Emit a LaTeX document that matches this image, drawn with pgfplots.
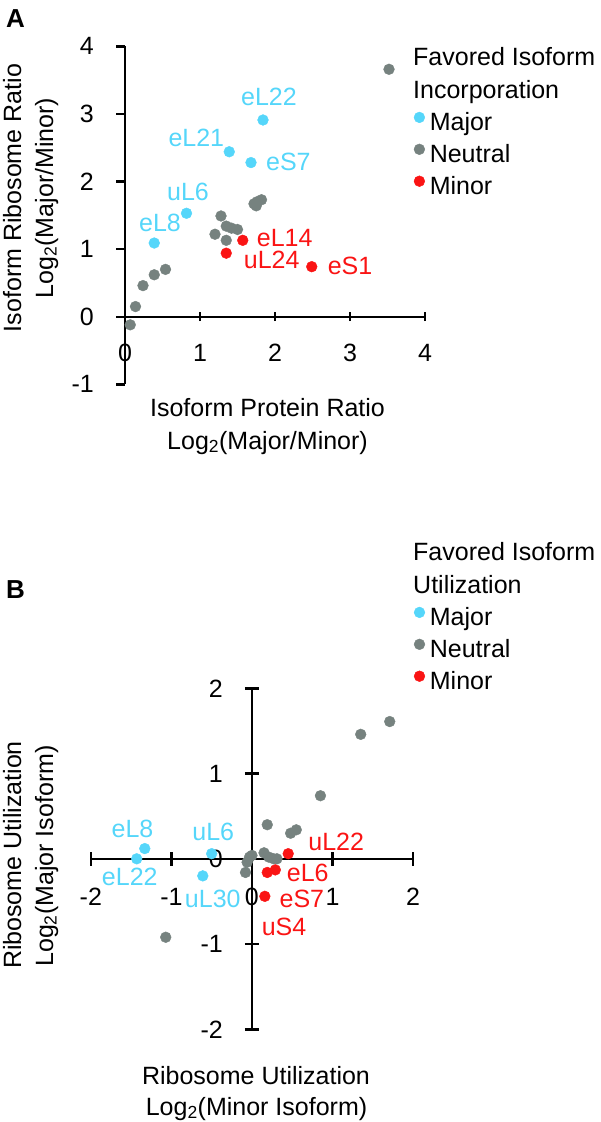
\documentclass[border=0pt]{standalone}
\usepackage{pgfplots}
\pgfplotsset{compat=1.18}
\usepackage{fontspec}
\setmainfont{Liberation Sans}
\definecolor{cmaj}{HTML}{55D6FA}
\definecolor{cneu}{HTML}{76827F}
\definecolor{cmin}{HTML}{FA1414}
\newcommand\fs{\fontsize{25}{30}\selectfont}
\tikzset{lbl/.style={font=\fs, inner sep=0pt, anchor=base}}

\pgfplotsset{
  myax/.style={
    scale only axis, axis lines=middle,
    axis line style={-, line width=2.4pt, black},
    every tick/.style={black, line width=2.4pt},
    hide obscured x ticks=false, hide obscured y ticks=false,
    clip=false,
    tick label style={font=\fs, inner sep=0pt},
    xticklabel style={anchor=base, yshift=-40pt},
    yticklabel style={anchor=east, xshift=-22pt},
    legend style={draw=none, fill=none, font=\fs, inner sep=0pt, outer sep=0pt,
      row sep=7.5pt, column sep=5pt, anchor=north west,
      nodes={inner sep=0pt, text height=18pt, text depth=6pt}},
    legend cell align=left,
    legend image code/.code={\draw[#1] plot coordinates {(5.5pt,7pt)};},
  },
  maj/.style={only marks, mark=*, mark size=5.4pt, color=cmaj, mark options={fill=cmaj, draw=cmaj}},
  neu/.style={only marks, mark=*, mark size=5.4pt, color=cneu, mark options={fill=cneu, draw=cneu}},
  mnr/.style={only marks, mark=*, mark size=5.4pt, color=cmin, mark options={fill=cmin, draw=cmin}},
}

\begin{document}
\begin{tikzpicture}[x=1pt,y=1pt]
\useasboundingbox (0,0) rectangle (601,-1122);

% ---------------- Panel A ----------------
\begin{axis}[myax, at={(125pt,-384.3pt)}, anchor=south west,
  width=300pt, height=338pt,
  xmin=0, xmax=4, ymin=-1, ymax=4,
  xtick={0,1,2,3,4}, xticklabels={0,1,2,3,4},
  ytick={-1,0,1,2,3,4}, yticklabels={-1,0,1,2,3,4},
  major tick length=9pt, xtick align=center, ytick align=outside,
  legend style={at={(axis description cs:0.9633,0.8056)}},
]
\addplot[maj] coordinates {(1.84,2.91) (1.39,2.44) (1.68,2.28) (0.82,1.53) (0.39,1.09)};
\addlegendentry{Major}
\addplot[neu] coordinates {(3.52,3.66) (1.76,1.70) (1.72,1.67) (1.82,1.73) (1.75,1.64)
  (1.28,1.49) (1.35,1.34) (1.42,1.31) (1.50,1.29) (1.20,1.22) (1.35,1.13)
  (0.54,0.70) (0.39,0.62) (0.24,0.46) (0.14,0.15) (0.07,-0.12)};
\addlegendentry{Neutral}
\addplot[mnr] coordinates {(1.57,1.13) (1.35,0.94) (2.49,0.74)};
\addlegendentry{Minor}
\node[lbl, text=cmaj] at (axis cs:1.92,3.13) {eL22};
\node[lbl, text=cmaj] at (axis cs:0.951,2.515) {eL21};
\node[lbl, text=cmaj] at (axis cs:2.178,2.17) {eS7};
\node[lbl, text=cmaj] at (axis cs:0.84,1.726) {uL6};
\node[lbl, text=cmaj] at (axis cs:0.467,1.257) {eL8};
\node[lbl, text=cmin] at (axis cs:2.129,1.036) {eL14};
\node[lbl, text=cmin] at (axis cs:1.956,0.716) {uL24};
\node[lbl, text=cmin] at (axis cs:3.0,0.617) {eS1};
\end{axis}

% ---------------- Panel B ----------------
\begin{axis}[myax, at={(90.8pt,-1029.3pt)}, anchor=south west,
  width=322.3pt, height=341pt,
  xmin=-2, xmax=2, ymin=-2, ymax=2,
  xtick={-2,-1,0,1,2}, xticklabels={-2,-1,0,1,2},
  ytick={-2,-1,0,1,2}, yticklabels={-2,-1,0,1,2},
  major tick length=14pt, tick align=center,
  legend style={at={(axis description cs:1.0031,1.2384)}},
]
\addplot[maj] coordinates {(-1.33,0.12) (-1.43,0.00) (-0.50,0.06) (-0.61,-0.20)};
\addlegendentry{Major}
\addplot[neu] coordinates {(1.71,1.61) (1.35,1.46) (0.85,0.74) (0.19,0.40) (0.48,0.30)
  (0.55,0.34) (-0.03,0.02) (-0.06,-0.04) (0.00,0.04) (-0.08,-0.16) (0.15,0.07)
  (0.21,0.02) (0.27,0.00) (0.31,0.00) (-1.07,-0.92)};
\addlegendentry{Neutral}
\addplot[mnr] coordinates {(0.45,0.06) (0.19,-0.16) (0.29,-0.13) (0.16,-0.44)};
\addlegendentry{Minor}
\node[lbl, text=cmaj] at (axis cs:-1.483,0.254) {eL8};
\node[lbl, text=cmaj] at (axis cs:-0.48,0.216) {uL6};
\node[lbl, text=cmaj] at (axis cs:-1.516,-0.312) {eL22};
\node[lbl, text=cmaj] at (axis cs:-0.486,-0.566) {uL30};
\node[lbl, text=cmin] at (axis cs:1.046,0.098) {uL22};
\node[lbl, text=cmin] at (axis cs:0.692,-0.265) {eL6};
\node[lbl, text=cmin] at (axis cs:0.62,-0.566) {eS7};
\node[lbl, text=cmin] at (axis cs:0.398,-0.898) {uS4};
\end{axis}

% ---------------- Texts outside the axes ----------------
\begin{scope}[every node/.style={font=\fs, inner sep=0pt}]
\node[anchor=base west, font=\bfseries\fontsize{26}{30}\selectfont] at (6,-27) {A};
\node[anchor=base west] at (413,-65) {Favored Isoform};
\node[anchor=base west] at (413,-98) {Incorporation};
\node[anchor=base] at (267.5,-416) {Isoform Protein Ratio};
\node[anchor=base] at (267.5,-449) {Log\textsubscript{2}(Major/Minor)};
\node[anchor=base, rotate=90] at (21,-198) {Isoform Ribosome Ratio};
\node[anchor=base, rotate=90] at (53,-198) {Log\textsubscript{2}(Major/Minor)};

\node[anchor=base west, font=\bfseries\fontsize{26}{30}\selectfont] at (6,-598) {B};
\node[anchor=base west] at (413,-560) {Favored Isoform};
\node[anchor=base west] at (413,-593) {Utilization};
\node[anchor=base] at (256,-1084) {Ribosome Utilization};
\node[anchor=base] at (256.5,-1115) {Log\textsubscript{2}(Minor Isoform)};
\node[anchor=base, rotate=90] at (21,-855) {Ribosome Utilization};
\node[anchor=base, rotate=90] at (53,-856) {Log\textsubscript{2}(Major Isoform)};
\end{scope}
\end{tikzpicture}
\end{document}
